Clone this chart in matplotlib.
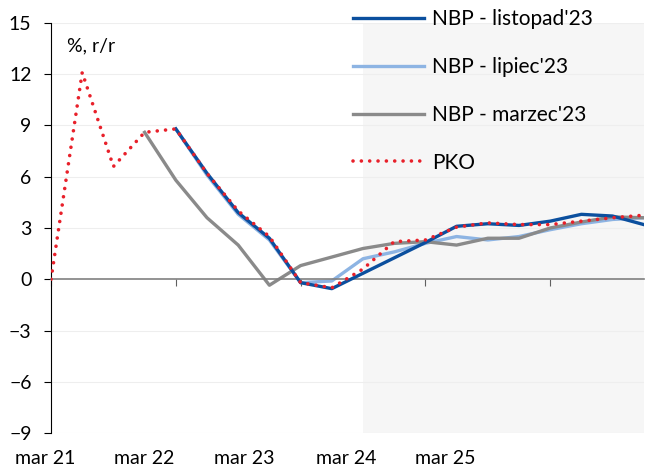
import matplotlib
matplotlib.use('Agg')
import matplotlib.pyplot as plt
import matplotlib.transforms as mtransforms
import numpy as np

plt.rcParams['font.family'] = ['Lato', 'DejaVu Sans']

# kwartały od mar 21 (indeks 0) do końca 2025 (indeks 19)
kwartaly = np.arange(20)

pko = [0.0, 12.1, 6.6, 8.6, 8.8, 6.2, 4.0, 2.5, -0.2, -0.5,
       0.6, 2.2, 2.3, 3.05, 3.3, 3.2, 3.2, 3.4, 3.6, 3.75]
nbp_lis = [None, None, None, None, 8.8, 6.2, 3.9, 2.4, -0.2, -0.55,
           0.35, 1.25, 2.15, 3.1, 3.25, 3.15, 3.4, 3.8, 3.7, 3.2]
nbp_lip = [None, None, None, None, 8.8, 6.1, 3.8, 2.3, -0.2, -0.1,
           1.2, 1.6, 2.1, 2.5, 2.3, 2.5, 2.9, 3.25, 3.5, 3.6]
nbp_mar = [None, None, None, 8.6, 5.8, 3.6, 2.0, -0.35, 0.8, 1.3,
           1.8, 2.1, 2.2, 2.0, 2.4, 2.4, 3.0, 3.35, 3.65, 3.6]

x_etykiety = ['mar 21', 'mar 22', 'mar 23', 'mar 24', 'mar 25']
x_etykiety_poz = [-0.2, 3.0, 6.2, 9.45, 12.65]
x_kreski = [0, 4, 8, 12, 16]
y_ticks = [-9, -6, -3, 0, 3, 6, 9, 12, 15]
prognoza_od = 10


def seria(v):
    return np.array([np.nan if a is None else a for a in v], dtype=float)


fig = plt.figure(figsize=(6.45, 4.72), dpi=100)
ax = fig.add_axes([0.0791, 0.0826, 0.919, 0.8687])

ax.axvspan(prognoza_od, kwartaly[-1], color='#f6f6f6', zorder=0, lw=0)
for y in y_ticks:
    if y != 0:
        ax.axhline(y, color='#eeeeee', lw=0.8, zorder=0.5)

ax.plot(kwartaly, seria(nbp_lis), color='#0b4f9e', lw=2.4, label="NBP - listopad'23", zorder=3)
ax.plot(kwartaly, seria(nbp_lip), color='#8db4e3', lw=2.4, label="NBP - lipiec'23", zorder=2)
ax.plot(kwartaly, seria(nbp_mar), color='#8a8a8a', lw=2.4, label="NBP - marzec'23", zorder=2)
ax.plot(kwartaly, seria(pko), color='#e8202a', lw=2.6, linestyle=(0, (0.01, 2.3)),
        dash_capstyle='round', label='PKO', zorder=4)

ax.set_xlim(0, 19)
ax.set_ylim(-9, 15)
ax.set_yticks(y_ticks)

ax.spines['top'].set_visible(False)
ax.spines['right'].set_visible(False)
ax.spines['left'].set_color('black')
ax.spines['bottom'].set_position(('data', 0))
ax.spines['bottom'].set_color('#808080')
ax.spines['bottom'].set_linewidth(1.2)

ax.set_xticks(x_kreski)
ax.set_xticklabels([])
ax.tick_params(axis='x', direction='out', length=5, color='#606060')
ax.tick_params(axis='y', direction='out', length=5, pad=9, labelsize=14, color='black')

# etykiety osi X pod wykresem (przesunięte względem kresek jak w oryginale)
trans = mtransforms.blended_transform_factory(ax.transData, ax.transAxes)
for poz, et in zip(x_etykiety_poz, x_etykiety):
    ax.text(poz, -0.062, et, transform=trans, ha='center', va='center',
            fontsize=14, clip_on=False)

ax.text(0.027, 0.965, '%, r/r', transform=ax.transAxes, fontsize=14, va='top', ha='left')

ax.legend(loc='upper left', bbox_to_anchor=(0.547, 0.981), bbox_transform=fig.transFigure,
          frameon=False, fontsize=15, handlelength=3.4, handletextpad=0.4,
          labelspacing=1.34, borderpad=0, borderaxespad=0)

fig.savefig('out.png', dpi=100)
